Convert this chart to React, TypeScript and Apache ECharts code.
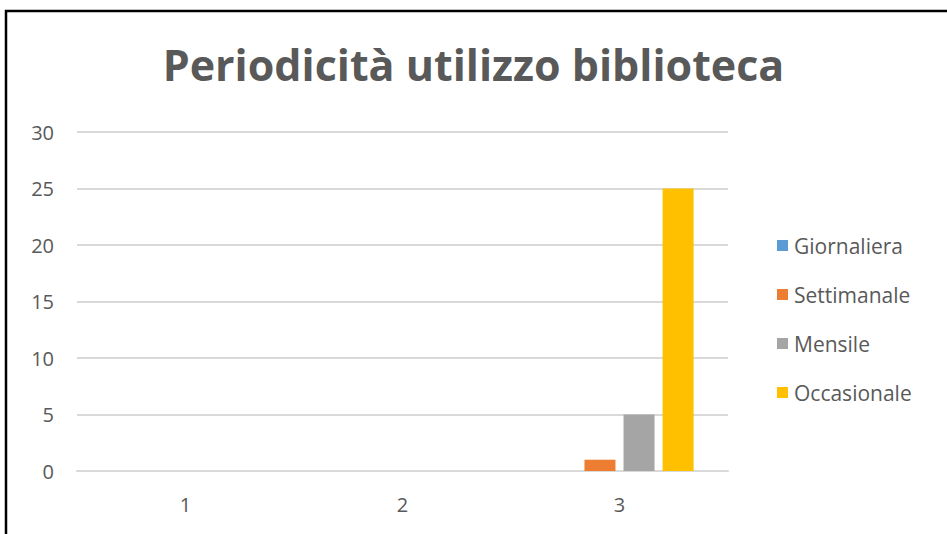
import React, { useEffect, useRef } from "react";
import * as echarts from "echarts";

const categories = ["1", "2", "3"];
const seriesNames = ["Giornaliera", "Settimanale", "Mensile", "Occasionale"];
const giornaliera = [0, 0, 0];
const settimanale = [0, 0, 1];
const mensile = [0, 0, 5];
const occasionale = [0, 0, 25];
const colors = ["#5B9BD5", "#ED7D31", "#A5A5A5", "#FFC000"];
const titleText = "Periodicità utilizzo biblioteca";

const FONT = "'Open Sans', sans-serif";

export default function App() {
  const ref = useRef<HTMLDivElement>(null);
  useEffect(() => {
    if (!ref.current) return;
    const chart = echarts.init(ref.current, undefined, { renderer: "svg" });
    const values = [giornaliera, settimanale, mensile, occasionale];
    chart.setOption({
      animation: false,
      backgroundColor: "#ffffff",
      color: colors,
      title: {
        text: titleText,
        left: "center",
        top: 38,
        textStyle: {
          fontFamily: FONT,
          fontWeight: "bold",
          fontSize: 43,
          color: "#595959",
        },
      },
      legend: {
        orient: "vertical",
        left: 772,
        top: 230,
        itemWidth: 11,
        itemHeight: 11,
        itemGap: 28,
        icon: "rect",
        data: seriesNames,
        textStyle: {
          fontFamily: FONT,
          fontSize: 21,
          color: "#595959",
          padding: [0, 0, 0, 1],
        },
      },
      grid: {
        left: 77,
        right: 219,
        top: 132,
        bottom: 63,
        containLabel: false,
      },
      xAxis: {
        type: "category",
        data: categories,
        axisLine: { show: true, lineStyle: { color: "#D9D9D9", width: 2 } },
        axisTick: { show: false },
        axisLabel: {
          margin: 23,
          fontFamily: FONT,
          fontSize: 20,
          color: "#595959",
        },
      },
      yAxis: {
        type: "value",
        min: 0,
        max: 30,
        interval: 5,
        axisLine: { show: false },
        axisTick: { show: false },
        splitLine: { lineStyle: { color: "#D9D9D9", width: 2 } },
        axisLabel: {
          margin: 23,
          fontFamily: FONT,
          fontSize: 20,
          color: "#595959",
        },
      },
      series: seriesNames.map((name, i) => ({
        name,
        type: "bar",
        data: values[i],
        barWidth: 31,
        barGap: "26%",
        itemStyle: { color: colors[i] },
      })),
      graphic: [
        {
          type: "rect",
          shape: { x: 6, y: 11, width: 960, height: 560 },
          style: { fill: "none", stroke: "#000000", lineWidth: 2.5 },
          silent: true,
        },
      ],
    });
    return () => chart.dispose();
  }, []);
  return (
    <div
      ref={ref}
      style={{ position: "absolute", left: 0, top: 0, width: 947, height: 534 }}
    />
  );
}
